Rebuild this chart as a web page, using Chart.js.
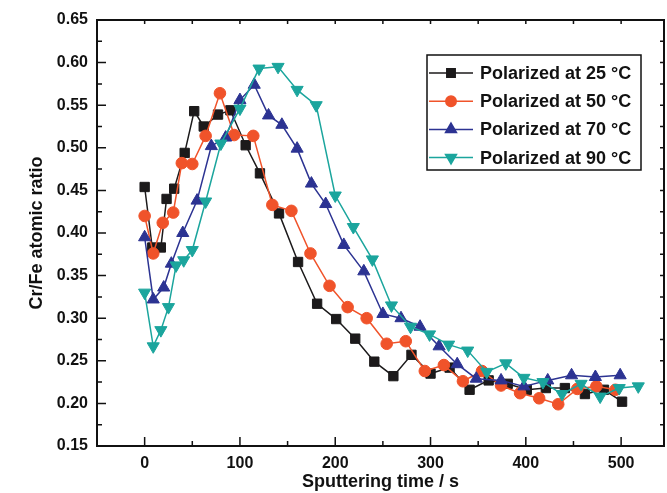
<!DOCTYPE html>
<html>
<head>
<meta charset="utf-8">
<script src="https://cdn.jsdelivr.net/npm/chart.js@4.4.1/dist/chart.umd.min.js"></script>
<style>
  html, body { margin: 0; padding: 0; background: #fff; }
  #wrap { width: 667px; height: 493px; }
</style>
</head>
<body>
<div id="wrap"><canvas id="ratioChart" width="667" height="493"></canvas></div>
<script>
// sputtering time (s) and Cr/Fe ratio for each polarization temperature
const seriesLabels = ['Polarized at 25 °C', 'Polarized at 50 °C', 'Polarized at 70 °C', 'Polarized at 90 °C'];
const seriesColors = ['#1c1a1b', '#f0532a', '#2c3392', '#1ba59d'];

const t25 = [0, 8, 17, 23, 31, 42, 52, 62, 77, 90, 106, 121, 141, 161, 181, 201, 221, 241, 261, 280, 300, 320, 341, 361, 381, 401, 421, 441, 462, 482, 501];
const r25 = [0.454, 0.383, 0.383, 0.440, 0.452, 0.494, 0.543, 0.525, 0.539, 0.544, 0.503, 0.470, 0.423, 0.366, 0.317, 0.299, 0.276, 0.249, 0.232, 0.257, 0.235, 0.242, 0.216, 0.227, 0.223, 0.216, 0.218, 0.218, 0.211, 0.216, 0.202];

const t50 = [0, 9, 19, 30, 39, 50, 64, 79, 94, 114, 134, 154, 174, 194, 213, 233, 254, 274, 294, 314, 334, 354, 374, 394, 414, 434, 454, 474, 494];
const r50 = [0.420, 0.376, 0.412, 0.424, 0.482, 0.481, 0.514, 0.564, 0.515, 0.514, 0.433, 0.426, 0.376, 0.338, 0.313, 0.300, 0.270, 0.273, 0.238, 0.245, 0.226, 0.238, 0.221, 0.212, 0.206, 0.199, 0.217, 0.220, 0.216];

const t70 = [0, 9, 20, 28, 40, 55, 70, 85, 100, 115, 130, 144, 160, 175, 190, 209, 230, 250, 269, 289, 309, 328, 348, 374, 398, 423, 448, 473, 499];
const r70 = [0.395, 0.322, 0.336, 0.364, 0.400, 0.438, 0.502, 0.512, 0.556, 0.574, 0.538, 0.527, 0.499, 0.458, 0.434, 0.386, 0.355, 0.305, 0.300, 0.290, 0.267, 0.246, 0.229, 0.227, 0.220, 0.227, 0.233, 0.231, 0.233];

const t90 = [0, 9, 17, 25, 33, 41, 50, 64, 80, 100, 120, 140, 160, 180, 200, 219, 239, 259, 279, 299, 319, 339, 359, 379, 398, 418, 438, 458, 478, 498, 518];
const r90 = [0.330, 0.267, 0.286, 0.313, 0.362, 0.368, 0.380, 0.437, 0.505, 0.546, 0.593, 0.595, 0.568, 0.550, 0.444, 0.407, 0.369, 0.315, 0.290, 0.281, 0.269, 0.262, 0.237, 0.247, 0.230, 0.225, 0.211, 0.223, 0.208, 0.218, 0.220];

const xTicks = [0, 100, 200, 300, 400, 500];
const xMinor = [50, 150, 250, 350, 450];
const yTicks = [0.15, 0.20, 0.25, 0.30, 0.35, 0.40, 0.45, 0.50, 0.55, 0.60, 0.65];
const yMinor = [0.175, 0.225, 0.275, 0.325, 0.375, 0.425, 0.475, 0.525, 0.575, 0.625];

const ink = '#111';
const fontFamily = '"Liberation Sans", Arial, sans-serif';

function makeSeries(i, times, ratios, style, rotation, radius) {
    return {
        label: seriesLabels[i],
        data: times.map((t, k) => ({x: t, y: ratios[k]})),
        showLine: true,
        borderColor: seriesColors[i],
        backgroundColor: seriesColors[i],
        borderWidth: 1.5,
        pointStyle: style,
        pointRotation: rotation,
        pointRadius: radius,
        pointBorderWidth: 1,
        order: 3 - i
    };
}

// box around the plot with inward ticks on all sides
const framePlugin = {
    id: 'frame',
    afterDraw(chart) {
        const {ctx, chartArea: a, scales: {x, y}} = chart;
        ctx.save();
        ctx.strokeStyle = ink;
        ctx.lineWidth = 2;
        ctx.strokeRect(a.left, a.top, a.right - a.left, a.bottom - a.top);
        ctx.lineWidth = 1.5;
        ctx.beginPath();
        const seg = (x1, y1, x2, y2) => { ctx.moveTo(x1, y1); ctx.lineTo(x2, y2); };
        xTicks.forEach(v => {
            const px = x.getPixelForValue(v);
            seg(px, a.bottom, px, a.bottom - 9);
            seg(px, a.top, px, a.top + 4);
        });
        xMinor.forEach(v => {
            const px = x.getPixelForValue(v);
            seg(px, a.bottom, px, a.bottom - 5);
            seg(px, a.top, px, a.top + 4);
        });
        yTicks.forEach(v => {
            const py = y.getPixelForValue(v);
            seg(a.left, py, a.left + 9, py);
            seg(a.right, py, a.right - 4, py);
        });
        yMinor.forEach(v => {
            const py = y.getPixelForValue(v);
            seg(a.left, py, a.left + 5, py);
            seg(a.right, py, a.right - 4, py);
        });
        ctx.stroke();
        ctx.restore();
    }
};

// boxed legend in the upper right, line + marker + text
const legendPlugin = {
    id: 'boxLegend',
    afterDraw(chart) {
        const ctx = chart.ctx;
        const left = 427, top = 55, w = 214, h = 115, rowH = 28.2;
        ctx.save();
        ctx.fillStyle = '#fff';
        ctx.fillRect(left, top, w, h);
        ctx.strokeStyle = ink;
        ctx.lineWidth = 1.5;
        ctx.strokeRect(left, top, w, h);
        chart.data.datasets.forEach((ds, i) => {
            const cy = top + 18 + i * rowH;
            ctx.strokeStyle = ds.borderColor;
            ctx.fillStyle = ds.backgroundColor;
            ctx.lineWidth = 1.5;
            ctx.beginPath();
            ctx.moveTo(left + 2, cy);
            ctx.lineTo(left + 46, cy);
            ctx.stroke();
            Chart.helpers.drawPoint(ctx, {
                pointStyle: ds.pointStyle,
                rotation: ds.pointRotation,
                radius: ds.pointRadius * 0.9,
                borderWidth: 1
            }, left + 24, cy);
            ctx.fillStyle = ink;
            ctx.font = 'bold 18px ' + fontFamily;
            ctx.textAlign = 'left';
            ctx.textBaseline = 'middle';
            ctx.fillText(ds.label, left + 53, cy + 1);
        });
        ctx.restore();
    }
};

Chart.defaults.color = ink;

new Chart(document.getElementById('ratioChart').getContext('2d'), {
    type: 'scatter',
    data: {
        datasets: [
            makeSeries(0, t25, r25, 'rect', 0, 6.6),
            makeSeries(1, t50, r50, 'circle', 0, 5.8),
            makeSeries(2, t70, r70, 'triangle', 0, 7),
            makeSeries(3, t90, r90, 'triangle', 180, 7)
        ]
    },
    options: {
        responsive: false,
        animation: false,
        layout: {autoPadding: false, padding: {top: 20, right: 3, bottom: 0, left: 0}},
        plugins: {
            legend: {display: false},
            tooltip: {enabled: false}
        },
        scales: {
            x: {
                type: 'linear',
                min: -50,
                max: 545,
                afterBuildTicks: s => { s.ticks = xTicks.map(v => ({value: v})); },
                afterFit: s => {
                    s.height = 47;
                    s.paddingLeft = 0;
                    s.paddingRight = 0;
                },
                grid: {display: false, drawTicks: false},
                border: {display: false},
                ticks: {
                    font: {family: fontFamily, size: 16, weight: 'bold'},
                    padding: 8,
                    maxRotation: 0,
                    autoSkip: false
                },
                title: {
                    display: true,
                    text: 'Sputtering time / s',
                    font: {family: fontFamily, size: 18, weight: 'bold'},
                    padding: {top: 0, bottom: 0}
                }
            },
            y: {
                min: 0.15,
                max: 0.65,
                afterBuildTicks: s => { s.ticks = yTicks.map(v => ({value: v})); },
                afterFit: s => {
                    s.width = 97;
                    s.paddingTop = 0;
                    s.paddingBottom = 0;
                },
                grid: {display: false, drawTicks: false},
                border: {display: false},
                ticks: {
                    font: {family: fontFamily, size: 16, weight: 'bold'},
                    padding: 9,
                    callback: v => v.toFixed(2)
                },
                title: {
                    display: true,
                    text: 'Cr/Fe atomic ratio',
                    font: {family: fontFamily, size: 18, weight: 'bold'},
                    padding: {top: 26, bottom: 0}
                }
            }
        }
    },
    plugins: [framePlugin, legendPlugin]
});
</script>
</body>
</html>
